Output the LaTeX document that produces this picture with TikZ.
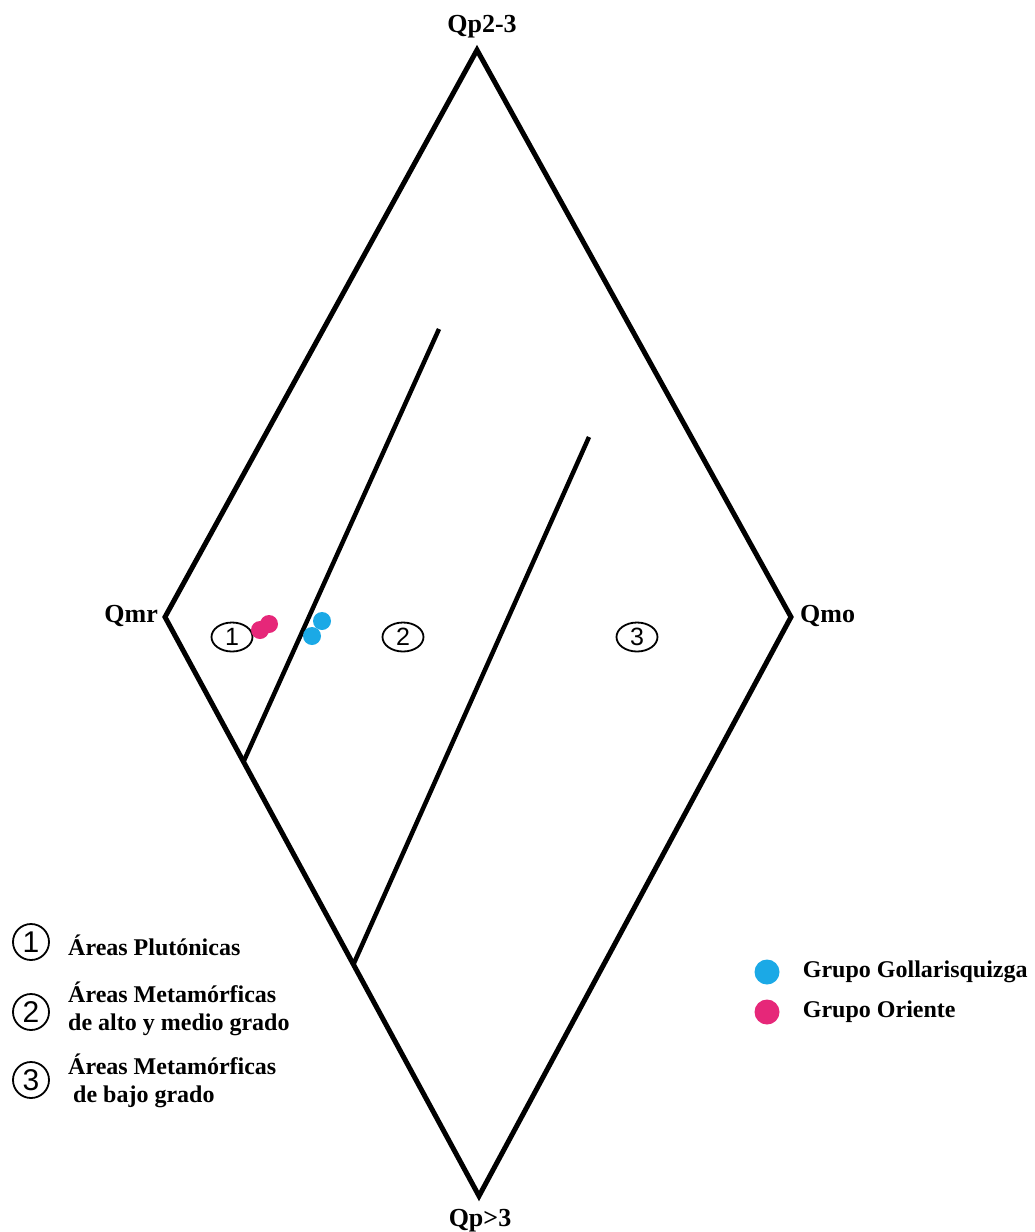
\documentclass[tikz,border=0pt]{standalone}
\usepackage{fontspec}
\setmainfont{Liberation Serif}
\newfontfamily\digitfont{Liberation Sans}
\usepackage{xcolor}
\usetikzlibrary{positioning, calc, shapes.geometric}
\definecolor{gollablue}{HTML}{1BA9E6}
\definecolor{orientepink}{HTML}{E62779}

\begin{document}
\begin{tikzpicture}[x=1pt, y=-1pt,
    edge/.style={line width=5pt, line join=miter},
    divide/.style={line width=4.5pt},
    vlabel/.style={font=\fontsize{26}{30}\selectfont\bfseries, inner sep=0pt},
    ltext/.style={font=\fontsize{24}{28}\selectfont\bfseries, inner sep=0pt, anchor=west, align=left},
    zone/.style={ellipse, draw, line width=1.8pt, minimum width=41pt, minimum height=29pt, inner sep=0pt, font=\digitfont\fontsize{25}{25}\selectfont},
    lzone/.style={circle, draw, line width=1.8pt, minimum size=36pt, inner sep=0pt, font=\digitfont\fontsize{30}{30}\selectfont},
    gdot/.style={circle, fill=gollablue, inner sep=0pt, minimum size=#1},
    odot/.style={circle, fill=orientepink, inner sep=0pt, minimum size=#1}]
      \useasboundingbox (0,0) rectangle (1035,1232);
      \coordinate (top) at (477,50);
      \coordinate (left) at (165,617);
      \coordinate (right) at (791,617);
      \coordinate (bottom) at (479,1196);
      \draw[edge] (top)--(right)--(bottom)--(left)--cycle;
      \coordinate (a1) at ($(left)!0.25!(bottom)$);
      \coordinate (b1) at (439,329);
      \coordinate (a2) at ($(left)!0.6!(bottom)$);
      \coordinate (b2) at (589,437);
      \draw[divide] (a1)--(b1);
      \draw[divide] (a2)--(b2);
      \node[vlabel] (qtop) at (482,27) {Qp2-3};
      \node[vlabel] (qbot) at (480,1221) {Qp>3};
      \node[vlabel, anchor=east] (qmr) at (158,616) {Qmr};
      \node[vlabel, anchor=west] (qmo) at (800,616) {Qmo};
      \node[zone] (z1) at (232,637) {1};
      \node[zone] (z2) at (403,637) {2};
      \node[zone] (z3) at (637,637) {3};
      \node[odot=18pt] (o1) at (260,630) {};
      \node[odot=18pt] (o2) at (269,624) {};
      \node[gdot=18pt] (g1) at (322,621) {};
      \node[gdot=18pt] (g2) at (312,636) {};
      \node[lzone] (l1) at (31,942) {1};
      \node[lzone] (l2) at (31,1012) {2};
      \node[lzone] (l3) at (31,1080) {3};
      \node[ltext] (t1) at (68,945) {Áreas Plutónicas};
      \node[ltext] (t2) at (68,1009) {Áreas Metamórficas\\de alto y medio grado};
      \node[ltext] (t3) at (68,1081) {Áreas Metamórficas\\\hspace{5pt}de bajo grado};
      \node[gdot=25pt] (lg) at (767,972) {};
      \node[odot=25pt] (lo) at (767,1012) {};
      \node[ltext, right=23pt of lg] (tg) {Grupo Gollarisquizga};
      \node[ltext, right=23pt of lo] (to) {Grupo Oriente};
    \end{tikzpicture}
\end{document}
